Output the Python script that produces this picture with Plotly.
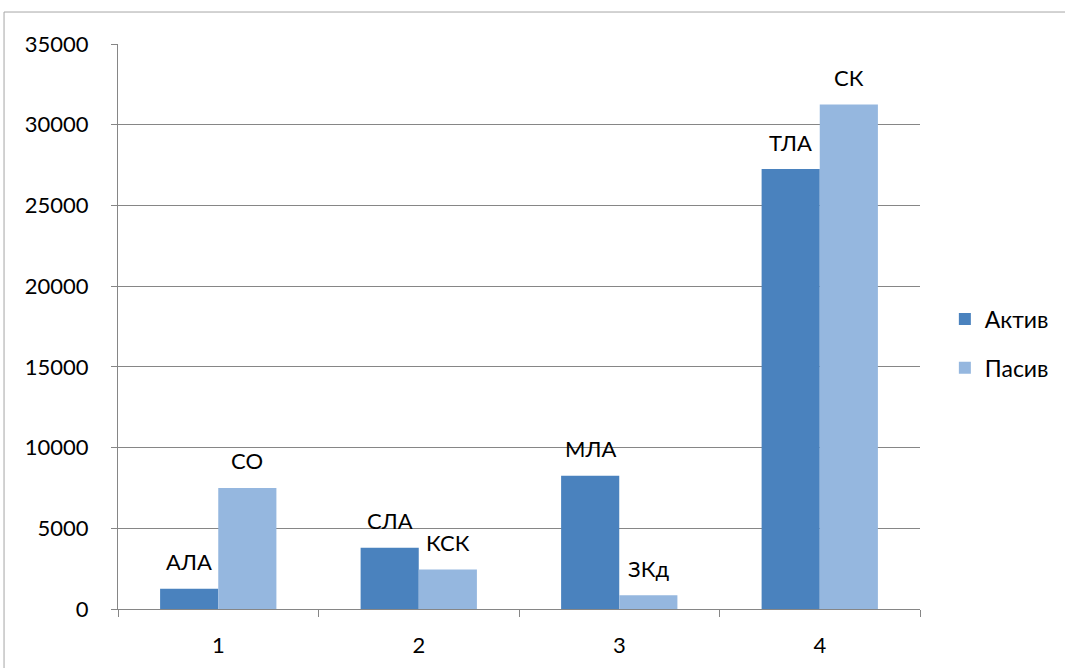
import plotly.graph_objects as go

categories = ["1", "2", "3", "4"]
aktiv = [1250, 3800, 8250, 27250]
pasiv = [7500, 2450, 850, 31250]
aktiv_labels = ["АЛА", "СЛА", "МЛА", "ТЛА"]
pasiv_labels = ["СО", "КСК", "ЗКд", "СК"]
y_ticks = [0, 5000, 10000, 15000, 20000, 25000, 30000, 35000]

FONT = "Lato"
C_AKTIV = "#4A82BE"
C_PASIV = "#95B7DF"

fig = go.Figure()
fig.add_trace(go.Bar(name="Актив", x=categories, y=aktiv, marker=dict(color=C_AKTIV, line=dict(width=0)),
                     legendgroup="a"))
fig.add_trace(go.Bar(name="Пасив", x=categories, y=pasiv, marker=dict(color=C_PASIV, line=dict(width=0)),
                     legendgroup="p"))

# data labels sitting above each bar (offset left / right within the cluster);
# positions on the category axis are given by index
annotations = []
for i, (v, t) in enumerate(zip(aktiv, aktiv_labels)):
    annotations.append(dict(x=i, y=v, text=t, xref="x", yref="y", showarrow=False,
                            xshift=-29, yshift=27, yanchor="middle",
                            font=dict(family=FONT, size=22, color="#000")))
for i, (v, t) in enumerate(zip(pasiv, pasiv_labels)):
    annotations.append(dict(x=i, y=v, text=t, xref="x", yref="y", showarrow=False,
                            xshift=29, yshift=27, yanchor="middle",
                            font=dict(family=FONT, size=22, color="#000")))

fig.update_layout(
    width=1065, height=668,
    margin=dict(l=118, r=145, t=44, b=59, autoexpand=False),
    paper_bgcolor="white", plot_bgcolor="white",
    barmode="group", bargap=0.42, bargroupgap=0,
    font=dict(family=FONT, size=22, color="#000"),
    annotations=annotations,
    legend=dict(x=1.031, y=0.47, xanchor="left", yanchor="middle",
                font=dict(family=FONT, size=23), tracegroupgap=16,
                itemwidth=30),
    xaxis=dict(type="category", tickson="boundaries", ticks="outside", ticklen=7,
               tickcolor="#868686", showline=True, linecolor="#868686", linewidth=1,
               showgrid=False, ticklabelstandoff=17, range=[-0.5, 3.5]),
    yaxis=dict(range=[0, 35000], tickvals=y_ticks, ticktext=[str(v) for v in y_ticks],
               showgrid=True, gridcolor="#868686", gridwidth=1,
               showline=True, linecolor="#868686", linewidth=1,
               ticks="outside", ticklen=6, tickcolor="#868686",
               zeroline=False, ticklabelstandoff=18),
    shapes=[dict(type="rect", xref="paper", yref="paper",
                 x0=-0.1421, x1=1.3, y0=-0.3, y1=1.0566,
                 line=dict(color="#A6A6A6", width=1), fillcolor="rgba(0,0,0,0)", layer="below")],
)

fig.write_html("out.html")
